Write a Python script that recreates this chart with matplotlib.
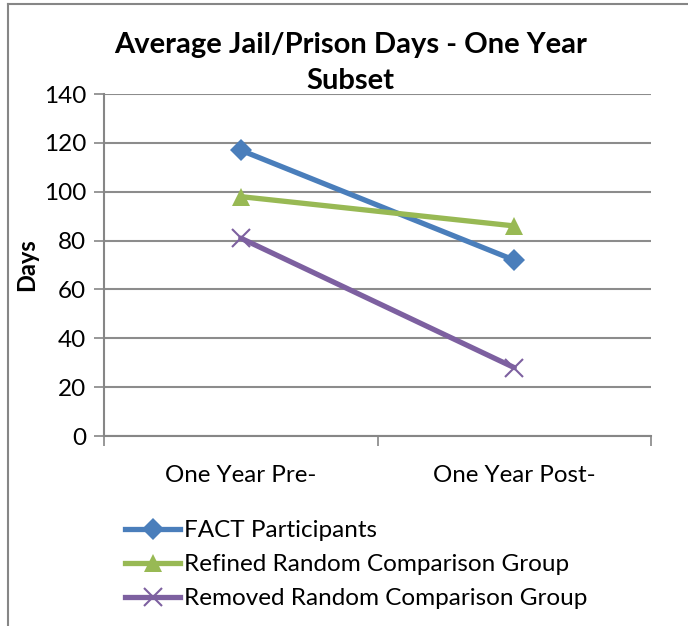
import matplotlib as mpl
import matplotlib.pyplot as plt
from matplotlib.lines import Line2D

mpl.rc('font', family=['Lato', 'DejaVu Sans'])

categories = ['One Year Pre-', 'One Year Post-']
fact_days = [117, 72]
refined_days = [98, 86]
removed_days = [81, 28]

series = [
    ('FACT Participants', fact_days, '#4a7ebb', 'D', 11),
    ('Refined Random Comparison Group', refined_days, '#98b954', '^', 13),
    ('Removed Random Comparison Group', removed_days, '#7d60a0', 'x', 13),
]

fig = plt.figure(figsize=(6.88, 6.26), dpi=100)
ax = fig.add_axes([0.1512, 0.3035, 0.795, 0.5463])

x = [0.5, 1.5]
for name, vals, col, mk, ms in series:
    kw = dict(markeredgewidth=1.5) if mk == 'x' else dict(markeredgewidth=0)
    ax.plot(x, vals, color=col, linewidth=3.8, marker=mk, markersize=ms,
            markerfacecolor=col, markeredgecolor=col, label=name,
            solid_capstyle='round', **kw)

ax.set_xlim(0, 2)
ax.set_ylim(0, 140)
ax.set_yticks(range(0, 141, 20))
ax.set_xticks([0, 1, 2])
ax.set_xticklabels([])
ax.set_xticks(x, minor=True)
ax.set_xticklabels(categories, minor=True, fontsize=17.4)
ax.tick_params(axis='x', which='minor', length=0, pad=21)
ax.tick_params(axis='x', which='major', length=7, width=1.2,
               color='#868686', direction='out')
ax.tick_params(axis='y', length=7, width=1.2, color='#868686',
               labelsize=17.5, pad=6)

ax.grid(axis='y', color='#8c8c8c', linewidth=1.5)
ax.set_axisbelow(True)
for side in ['top', 'right']:
    ax.spines[side].set_visible(False)
for side in ['left', 'bottom']:
    ax.spines[side].set_color('#868686')
    ax.spines[side].set_linewidth(1.5)

ax.set_ylabel('Days', fontsize=17, fontweight='bold', labelpad=4)
fig.text(0.509, 0.899, 'Average Jail/Prison Days - One Year\nSubset',
         ha='center', va='center', fontsize=21, fontweight='bold',
         linespacing=1.48)

handles = [Line2D([0], [0], color=col, linewidth=3.8, marker=mk,
                  markersize=ms, markerfacecolor=col, markeredgecolor=col,
                  markeredgewidth=1.5 if mk == 'x' else 0)
           for name, vals, col, mk, ms in series]
fig.legend(handles, [s[0] for s in series], loc='upper left',
           bbox_to_anchor=(0.182, 0.169), frameon=False, fontsize=17.5,
           handlelength=2.26, handletextpad=0.16, labelspacing=0.53,
           borderpad=0, borderaxespad=0)

# outer chart frame (top and left edges)
fig.add_artist(Line2D([0.012, 1.0], [0.994, 0.994], color='#868686',
                      linewidth=1.5, transform=fig.transFigure))
fig.add_artist(Line2D([0.012, 0.012], [0.0, 0.994], color='#868686',
                      linewidth=1.5, transform=fig.transFigure))

fig.savefig('out.png', dpi=100)
